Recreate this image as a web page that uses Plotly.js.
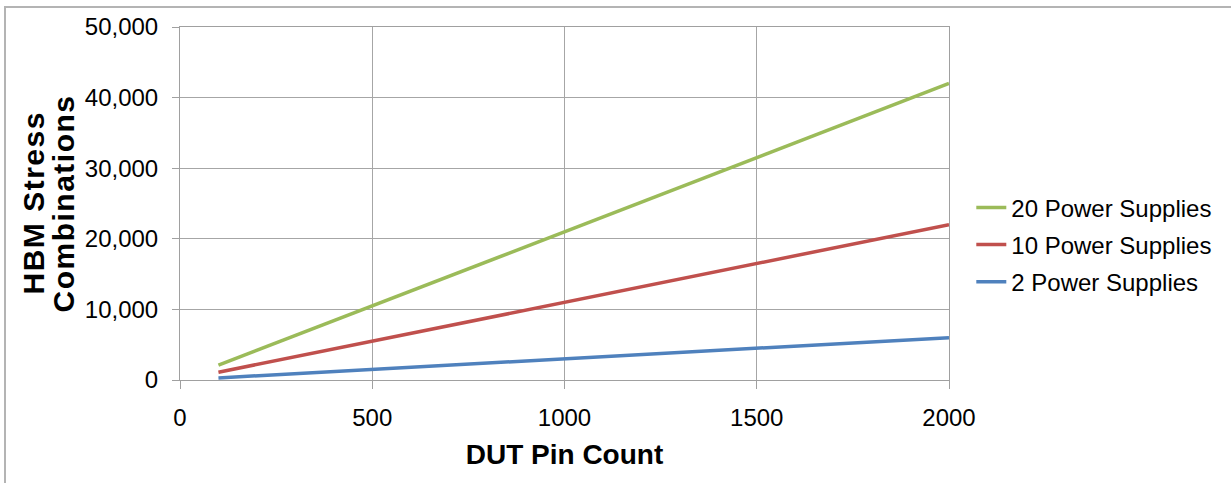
<!DOCTYPE html>
<html>
<head>
<meta charset="utf-8">
<script src="https://cdn.plot.ly/plotly-3.0.1.min.js"></script>
<style>
  html, body { margin: 0; padding: 0; background: #fff; }
  #chart { width: 1231px; height: 483px; }
  #frame { position: absolute; left: 4px; top: 6px; width: 1240px; height: 500px;
           border-left: 2px solid #b4b4b4; border-top: 2px solid #b4b4b4; pointer-events: none; }
  .annotation-text { letter-spacing: 1.5px; }
</style>
</head>
<body>
<div id="chart"></div>
<div id="frame"></div>
<script>
const pinCount = [100, 500, 1000, 1500, 2000];
const supplies20 = [2100, 10500, 21000, 31500, 42000];
const supplies10 = [1100, 5500, 11000, 16500, 22000];
const supplies2 = [300, 1500, 3000, 4500, 6000];
const seriesNames = ['20 Power Supplies', '10 Power Supplies', '2 Power Supplies'];
const xTitle = 'DUT Pin Count';
const yTitleLines = ['HBM Stress', 'Combinations'];

const font = 'Liberation Sans, Arial, sans-serif';
const colors = ['#9BBB59', '#C0504D', '#4F81BD'];
const series = [supplies20, supplies10, supplies2];

const traces = series.map((vals, i) => ({
  x: pinCount, y: vals, name: seriesNames[i], type: 'scatter', mode: 'lines',
  legendgroup: 'g' + i,
  line: { color: colors[i], width: 3.5 }
}));

// plot area: x 180..949 px, y 27..380 px
const plotW = 769;
const yTitleX = [33, 63];

const layout = {
  width: 1231, height: 483,
  margin: { l: 180, r: 282, t: 27, b: 103 },
  paper_bgcolor: '#fff', plot_bgcolor: '#fff',
  font: { family: font, color: '#000', size: 24 },
  showlegend: true,
  legend: { x: 1.029, y: 0.383, xanchor: 'left', yanchor: 'middle', tracegroupgap: 3,
            font: { family: font, size: 24, color: '#000' }, itemwidth: 30,
            bgcolor: 'rgba(0,0,0,0)' },
  xaxis: {
    range: [0, 2000], dtick: 500, tick0: 0, showgrid: true, gridcolor: '#a6a6a6', gridwidth: 1,
    showline: true, linecolor: '#a0a0a0', linewidth: 1, mirror: true,
    ticks: 'outside', ticklen: 8, tickcolor: '#a0a0a0', ticklabelstandoff: 8,
    zeroline: false, tickfont: { size: 24 },
    title: { text: xTitle, font: { size: 28, weight: 'bold' }, standoff: 14 }
  },
  yaxis: {
    range: [0, 50000], dtick: 10000, tick0: 0, tickformat: ',d', showgrid: true, gridcolor: '#a6a6a6', gridwidth: 1,
    showline: true, linecolor: '#a0a0a0', linewidth: 1, mirror: true,
    ticks: 'outside', ticklen: 7, tickcolor: '#a0a0a0', ticklabelstandoff: 9,
    zeroline: false, tickfont: { size: 24 },
    title: { text: '' }
  },
  annotations: yTitleLines.map((t, i) => ({
    text: t, xref: 'paper', yref: 'paper', x: (yTitleX[i] - 180) / plotW, y: 0.5,
    xanchor: 'center', yanchor: 'middle', textangle: -90, showarrow: false,
    font: { family: font, size: 30, weight: 'bold', color: '#000' }
  }))
};

Plotly.newPlot('chart', traces, layout, { displayModeBar: false, staticPlot: true });
</script>
</body>
</html>
